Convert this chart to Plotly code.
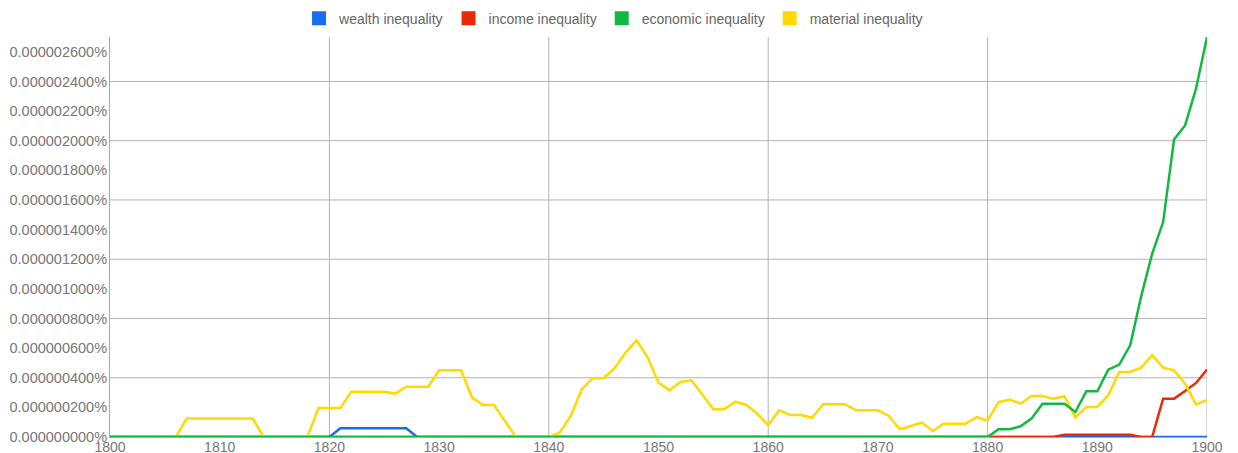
import plotly.graph_objects as go

years = list(range(1800, 1901))

# values in units of 1e-7 percent
wealth_e7 = [0] * 21 + [0.59] * 7 + [0] * 73
income_e7 = [0] * 87 + [0.16] * 7 + [0, 0] + [2.59, 2.59, 3.1, 3.65, 4.55]
economic_e7 = [0] * 81 + [0.52, 0.52, 0.72, 1.24, 2.25, 2.25, 2.25, 1.69, 3.09, 3.09,
                          4.55, 4.89, 6.19, 9.49, 12.37, 14.51, 20.09, 21.03, 23.51, 27.0]
material_e7 = ([0] * 7 + [1.25] * 7 + [0] * 5
               + [1.95, 1.95, 1.95, 3.06, 3.06, 3.06, 3.06, 2.93, 3.4, 3.4, 3.4,
                  4.5, 4.5, 4.5, 2.66, 2.16, 2.16, 1.08, 0, 0, 0, 0]
               + [0.3, 1.42, 3.22, 3.97, 3.97, 4.64, 5.7, 6.53, 5.4, 3.67,
                  3.15, 3.72, 3.83, 2.84, 1.87, 1.87, 2.39, 2.16, 1.58, 0.81,
                  1.8, 1.49, 1.49, 1.3, 2.21, 2.21, 2.21, 1.8, 1.8, 1.8,
                  1.42, 0.52, 0.74, 0.97, 0.4, 0.9, 0.9, 0.9, 1.35, 1.12]
               + [2.36, 2.52, 2.25, 2.77, 2.77, 2.59, 2.75, 1.31, 2.03, 2.03,
                  2.82, 4.39, 4.39, 4.68, 5.52, 4.68, 4.5, 3.6, 2.2, 2.48])

series = [
    ("wealth inequality", wealth_e7, "#1a6df0"),
    ("income inequality", income_e7, "#e62a0a"),
    ("material inequality", material_e7, "#ffd900"),
    ("economic inequality", economic_e7, "#12b940"),
]
legend_order = ["wealth inequality", "income inequality", "economic inequality", "material inequality"]
colors = {name: c for name, _, c in series}

fig = go.Figure()
for name, vals, color in series:
    fig.add_trace(go.Scatter(x=years, y=[v * 1e-7 for v in vals], mode="lines",
                             line=dict(color=color, width=2.5), name=name, showlegend=False))

# square legend swatches
for name in legend_order:
    fig.add_trace(go.Scatter(x=[None], y=[None], mode="markers", name=name,
                             marker=dict(symbol="square", size=14, color=colors[name])))

grid = "#b4b4b4"
for yr in range(1820, 1901, 20):
    fig.add_shape(type="line", xref="x", yref="paper", x0=yr, x1=yr, y0=0, y1=1,
                  line=dict(color=grid, width=1), layer="below")
for k in range(1, 7):
    fig.add_shape(type="line", xref="paper", yref="y", x0=0, x1=1, y0=k * 4e-7, y1=k * 4e-7,
                  line=dict(color=grid, width=1), layer="below")

fig.update_xaxes(range=[1800, 1900], dtick=10, tick0=1800, showgrid=False, zeroline=False,
                 showline=True, linecolor="#aaaaaa", linewidth=1, ticks="",
                 ticklabelstandoff=-3, tickfont=dict(size=14, color="#777777"))
fig.update_yaxes(range=[0, 2.7e-6], dtick=2e-7, tick0=0, tickformat=".9f", ticksuffix="%",
                 showgrid=False, zeroline=False, showline=True, linecolor="#aaaaaa", linewidth=1,
                 ticks="", ticklabelstandoff=-1, tickfont=dict(size=14.5, color="#777777"))

# the page body adds an 8px offset, so the figure is a bit smaller than the window
fig.update_layout(
    width=1230, height=445,
    margin=dict(l=102, r=31, t=29, b=16, autoexpand=False),
    paper_bgcolor="white", plot_bgcolor="white",
    font=dict(family="Liberation Sans, Arial, sans-serif", color="#666666"),
    legend=dict(orientation="h", xref="container", yref="container", x=0.4923, xanchor="center",
                y=0.976, yanchor="middle", font=dict(size=14, color="#666666"), itemclick=False),
    showlegend=True,
)

fig.write_html("out.html")
